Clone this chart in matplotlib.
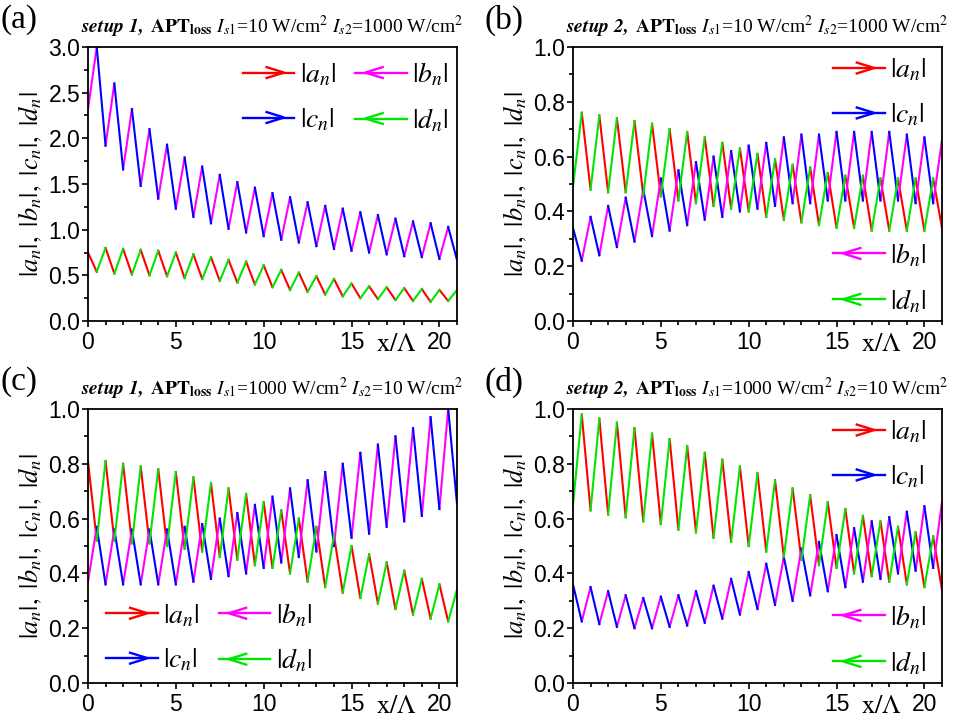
import numpy as np
import matplotlib
matplotlib.use('Agg')
import matplotlib.pyplot as plt
from matplotlib.lines import Line2D
from matplotlib.legend_handler import HandlerBase

plt.rcParams['font.family'] = ['Liberation Sans', 'DejaVu Sans']
plt.rcParams['mathtext.fontset'] = 'stix'

# corners of the zigzag, every half period
x_nodes = np.arange(0, 21.01, 0.5)

# panel (a): setup 1, Is1=10, Is2=1000
a_bc = [2.32, 3.00, 1.92, 2.60, 1.66, 2.32, 1.48, 2.10, 1.34, 1.93, 1.23, 1.79,
        1.14, 1.69, 1.07, 1.60, 1.01, 1.52, 0.97, 1.46, 0.93, 1.40, 0.89, 1.355,
        0.86, 1.30, 0.82, 1.26, 0.79, 1.23, 0.77, 1.19, 0.75, 1.16, 0.73, 1.12,
        0.71, 1.09, 0.70, 1.07, 0.68, 1.03, 0.67]
a_ad = [0.75, 0.54, 0.80, 0.52, 0.79, 0.51, 0.78, 0.50, 0.77, 0.49, 0.75, 0.47,
        0.73, 0.46, 0.70, 0.44, 0.67, 0.42, 0.65, 0.40, 0.61, 0.37, 0.56, 0.34,
        0.53, 0.32, 0.49, 0.29, 0.46, 0.27, 0.41, 0.25, 0.38, 0.24, 0.37, 0.23,
        0.36, 0.22, 0.35, 0.21, 0.34, 0.22, 0.34]

# panel (b): setup 2, Is1=10, Is2=1000
b_ad = [0.49, 0.76, 0.48, 0.75, 0.47, 0.74, 0.47, 0.73, 0.46, 0.72, 0.455, 0.70,
        0.44, 0.69, 0.43, 0.67, 0.42, 0.65, 0.41, 0.63, 0.40, 0.61, 0.38, 0.59,
        0.37, 0.57, 0.36, 0.56, 0.35, 0.54, 0.34, 0.53, 0.34, 0.53, 0.33, 0.52,
        0.33, 0.52, 0.33, 0.52, 0.33, 0.52, 0.34]
b_bc = [0.34, 0.22, 0.38, 0.24, 0.42, 0.27, 0.45, 0.29, 0.48, 0.31, 0.52, 0.33,
        0.55, 0.35, 0.58, 0.37, 0.60, 0.38, 0.62, 0.40, 0.64, 0.41, 0.65, 0.42,
        0.67, 0.43, 0.68, 0.43, 0.68, 0.44, 0.69, 0.44, 0.69, 0.44, 0.69, 0.44,
        0.69, 0.44, 0.68, 0.43, 0.67, 0.43, 0.66]

# panel (c): setup 1, Is1=1000, Is2=10
c_ad = [0.81, 0.52, 0.81, 0.52, 0.80, 0.51, 0.79, 0.51, 0.78, 0.50, 0.77, 0.49,
        0.75, 0.48, 0.73, 0.46, 0.71, 0.45, 0.69, 0.43, 0.66, 0.42, 0.63, 0.40,
        0.60, 0.37, 0.57, 0.35, 0.54, 0.33, 0.50, 0.31, 0.47, 0.29, 0.44, 0.27,
        0.41, 0.25, 0.38, 0.235, 0.36, 0.225, 0.34]
c_bc = [0.37, 0.57, 0.36, 0.56, 0.36, 0.56, 0.36, 0.56, 0.36, 0.56, 0.36, 0.57,
        0.37, 0.58, 0.38, 0.60, 0.39, 0.62, 0.40, 0.65, 0.42, 0.68, 0.44, 0.71,
        0.46, 0.74, 0.48, 0.77, 0.50, 0.80, 0.53, 0.84, 0.545, 0.87, 0.57, 0.90,
        0.59, 0.93, 0.61, 0.97, 0.635, 1.00, 0.655]

# panel (d): setup 2, Is1=1000, Is2=10
d_ad = [0.65, 0.98, 0.63, 0.965, 0.615, 0.95, 0.605, 0.93, 0.59, 0.91, 0.58, 0.89,
        0.56, 0.865, 0.55, 0.84, 0.53, 0.815, 0.515, 0.79, 0.50, 0.765, 0.48, 0.74,
        0.46, 0.71, 0.45, 0.685, 0.43, 0.66, 0.42, 0.635, 0.40, 0.61, 0.39, 0.59,
        0.37, 0.57, 0.36, 0.55, 0.35, 0.535, 0.34]
d_bc = [0.36, 0.225, 0.35, 0.215, 0.335, 0.205, 0.32, 0.20, 0.31, 0.20, 0.315, 0.205,
        0.32, 0.21, 0.335, 0.22, 0.355, 0.235, 0.38, 0.25, 0.405, 0.27, 0.435, 0.285,
        0.46, 0.30, 0.49, 0.32, 0.515, 0.335, 0.54, 0.35, 0.565, 0.37, 0.59, 0.38,
        0.605, 0.40, 0.625, 0.41, 0.645, 0.42, 0.66]

colors = {'a': '#ff0000', 'b': '#ff00ff', 'c': '#0000ff', 'd': '#00e600'}
labels = {k: r'$|%s_n|$' % k for k in 'abcd'}

# which field owns the first half of each period (even segments)
setup1_even = {'a': True, 'b': True, 'c': False, 'd': False}
setup2_even = {'a': False, 'b': False, 'c': True, 'd': True}

panels = [
    ('(a)', '1', '10', '1000', a_ad, a_bc, setup1_even, (0, 3.0), 0.5, 0.25),
    ('(b)', '2', '10', '1000', b_ad, b_bc, setup2_even, (0, 1.0), 0.2, 0.1),
    ('(c)', '1', '1000', '10', c_ad, c_bc, setup1_even, (0, 1.0), 0.2, 0.1),
    ('(d)', '2', '1000', '10', d_ad, d_bc, setup2_even, (0, 1.0), 0.2, 0.1),
]
positions = [[0.0907, 0.5566, 0.3804, 0.3785], [0.5907, 0.5566, 0.3804, 0.3785],
             [0.0907, 0.0566, 0.3804, 0.3785], [0.5907, 0.0566, 0.3804, 0.3785]]
label_pos = [(0.0, 0.994), (0.5, 0.994), (0.0, 0.494), (0.5, 0.494)]


def segments(values, even):
    xs, ys = [], []
    start = 0 if even else 1
    for k in range(start, len(values) - 1, 2):
        xs += [x_nodes[k], x_nodes[k + 1], np.nan]
        ys += [values[k], values[k + 1], np.nan]
    return xs, ys


class ArrowHandle(HandlerBase):
    def __init__(self, pointing):
        super().__init__()
        self.pointing = pointing

    def create_artists(self, legend, orig_handle, xdescent, ydescent,
                       width, height, fontsize, trans):
        c = orig_handle.get_color()
        y = height / 2 - ydescent
        x0 = -xdescent
        if self.pointing > 0:
            tip, back = x0 + 0.80 * width, x0 + 0.46 * width
        else:
            tip, back = x0 + 0.19 * width, x0 + 0.53 * width
        h = 0.28 * height
        line = Line2D([x0, x0 + width], [y, y], color=c, lw=1.7, transform=trans)
        head = Line2D([back, tip, back], [y + h, y, y - h], color=c, lw=1.7,
                      solid_joinstyle='miter', transform=trans)
        return [line, head]


fig = plt.figure(figsize=(9.7, 7.24), dpi=100)

for (tag, setup, is1, is2, ad, bc, even, ylim, ymaj, ymin), pos, lp in zip(panels, positions, label_pos):
    ax = fig.add_axes(pos)
    lines = {}
    for key in 'abcd':
        vals = ad if key in 'ad' else bc
        xs, ys = segments(vals, even[key])
        ln, = ax.plot(xs, ys, color=colors[key], lw=1.5, label=labels[key])
        lines[key] = ln
    hmap = {lines['a']: ArrowHandle(1), lines['c']: ArrowHandle(1),
            lines['b']: ArrowHandle(-1), lines['d']: ArrowHandle(-1)}

    ax.set_xlim(0, 21)
    ax.set_ylim(*ylim)
    ax.set_xticks(np.arange(0, 21, 5))
    ax.set_xticks(np.arange(0, 22, 1), minor=True)
    ax.set_yticks(np.arange(ylim[0], ylim[1] + 1e-9, ymaj))
    ax.set_yticks(np.arange(ylim[0], ylim[1] + 1e-9, ymin), minor=True)
    ax.yaxis.set_major_formatter(matplotlib.ticker.FormatStrFormatter('%.1f'))
    ax.tick_params(which='both', direction='out', width=1.2, labelsize=16.5)
    ax.tick_params(which='major', length=4.5)
    ax.tick_params(which='minor', length=3)
    ax.tick_params(axis='y', pad=1.0)
    ax.tick_params(axis='x', pad=3.0)
    for sp in ax.spines.values():
        sp.set_linewidth(1.3)

    ax.set_ylabel(r'$|a_n|,\ |b_n|,\ |c_n|,\ |d_n|$', fontsize=19, labelpad=3)
    ax.text(0.835, -0.085, r'$\mathrm{x/\Lambda}$', transform=ax.transAxes,
            ha='center', va='center', fontsize=19)

    title = (r'$\mathbfit{setup\ %s,}$ $\mathbf{APT_{loss}}$ $I_{\mathit{s1}}$=%s W/cm$^2$'
             r' $I_{\mathit{s2}}$=%s W/cm$^2$' % (setup, is1, is2))
    ax.set_title(title, fontsize=14, pad=10, family='Liberation Serif')
    fig.text(lp[0], lp[1], tag, ha='left', va='top', fontsize=24,
             family='Liberation Serif')

    kw = dict(frameon=False, fontsize=20, handlelength=1.85, handletextpad=0.2,
              borderpad=0, borderaxespad=0, labelspacing=0.66, handler_map=hmap)
    if setup == '1':
        order = [lines['a'], lines['c'], lines['b'], lines['d']]
        anchor = (0.42, 0.95) if tag == '(a)' else (0.05, 0.298)
        ax.legend(order, [labels[k] for k in 'acbd'], ncol=2, columnspacing=0.7,
                  loc='upper left', bbox_to_anchor=anchor, **kw)
    else:
        leg1 = ax.legend([lines['a'], lines['c']], [labels['a'], labels['c']],
                         loc='upper left', bbox_to_anchor=(0.705, 0.963), **kw)
        ax.add_artist(leg1)
        ax.legend([lines['b'], lines['d']], [labels['b'], labels['d']],
                  loc='upper left', bbox_to_anchor=(0.705, 0.29), **kw)

fig.savefig('out.png', dpi=100)
